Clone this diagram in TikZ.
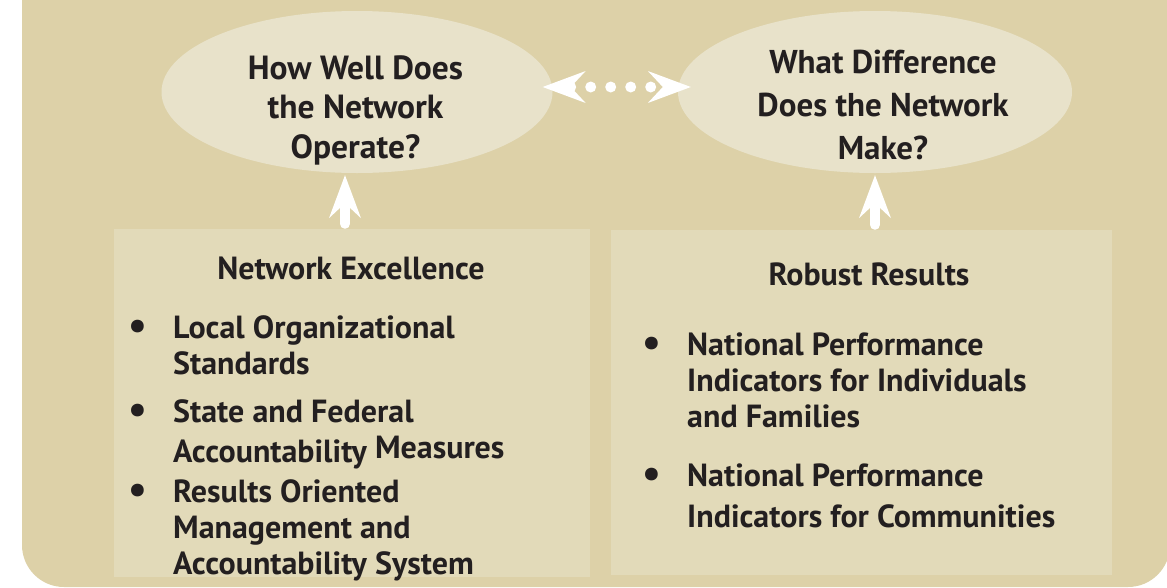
\documentclass[tikz,border=0pt]{standalone}
\usepackage{fontspec}
\setmainfont{PT Sans}
\usetikzlibrary{arrows.meta, positioning, shapes.geometric}
\definecolor{bgtan}{RGB}{221,209,168}
\definecolor{paneltan}{RGB}{226,218,185}
\definecolor{ovaltan}{RGB}{232,226,202}
\definecolor{inkdark}{RGB}{35,31,32}
\newcommand*{\itembullet}{\llap{\raisebox{-1.5pt}{\scalebox{1.3}{\textbullet}}\hspace{26pt}}}

\begin{document}
\begin{tikzpicture}[
      x=1pt, y=-1pt, text=inkdark,
      >={Stealth[length=43pt, width=32pt, inset=15pt, line width=0pt]},
      oval/.style={ellipse, fill=ovaltan, inner sep=0pt, minimum height=162pt},
      panel/.style={rectangle, fill=paneltan, inner sep=0pt},
      words/.style={inner sep=0pt, font=\fontsize{32}{#1}\selectfont\bfseries},
      question/.style={words=#1, anchor=base, align=center},
      item/.style={words=#1, anchor=base west, align=left},
      uparrow/.style={white, line width=10pt, line cap=round, ->, shorten <=5pt, shorten >=2pt},
      dotarrow/.style={white, line width=11pt, line cap=round, dash pattern=on 0pt off 20pt, <->},
      ]

      % multi-line nodes sit on the baseline of their last line
      \useasboundingbox (0,0) rectangle (1167,587);
      \fill[bgtan, rounded corners=42pt] (22,-60) -- (22,587) -- (1170,587) -- (1170,-60) -- cycle;

      \node[oval, minimum width=391pt]            (operate)    at (357,92)     {};
      \node[oval, minimum width=394pt]            (difference) at (875,92)     {};
      \node[question=39.5pt, font=\fontsize{33.5}{39.5}\selectfont\bfseries] (operate_q)  at (355.5,158)  {How Well Does\\the Network\\Operate?};
      \node[question=43pt, font=\fontsize{33}{43}\selectfont\bfseries]       (difference_q) at (883,159)  {What Difference\\Does the Network\\Make?};

      \node[panel, minimum width=476pt, minimum height=348pt] (excellence) at (352,403) {};
      \node[panel, minimum width=501pt, minimum height=345pt] (results)    at (861.5,402.5) {};

      \node[words=36pt, anchor=base] (excellence_t) at (351,279) {Network Excellence};
      \node[item=36pt]  (excellence_1) at (173,374) {\itembullet Local Organizational\\Standards};
      \node[item=40pt]  (excellence_2) at (173,462) {\itembullet State and Federal\\Accountability \raisebox{4pt}{Measures}};
      \node[item=36pt]  (excellence_3) at (173,574) {\itembullet Results Oriented\\Management and\\Accountability System};

      \node[words=36pt, anchor=base] (results_t) at (869,285) {Robust Results};
      \node[item=36pt]  (results_1) at (687,427) {\itembullet National Performance\\Indicators for Individuals\\and Families};
      \node[item=41pt]  (results_2) at (687,527) {\itembullet National Performance\\Indicators for Communities};

      \draw[uparrow] ([xshift=-7pt]excellence.north) -- ([xshift=-7pt]excellence.north |- operate.south);
      \draw[uparrow] (results.north -| difference.south) -- (difference.south);
      \draw[dotarrow, shorten <=-10pt, shorten >=-13pt] ([yshift=5pt]operate.east) -- ([yshift=5pt]difference.west);
    \end{tikzpicture}
\end{document}
